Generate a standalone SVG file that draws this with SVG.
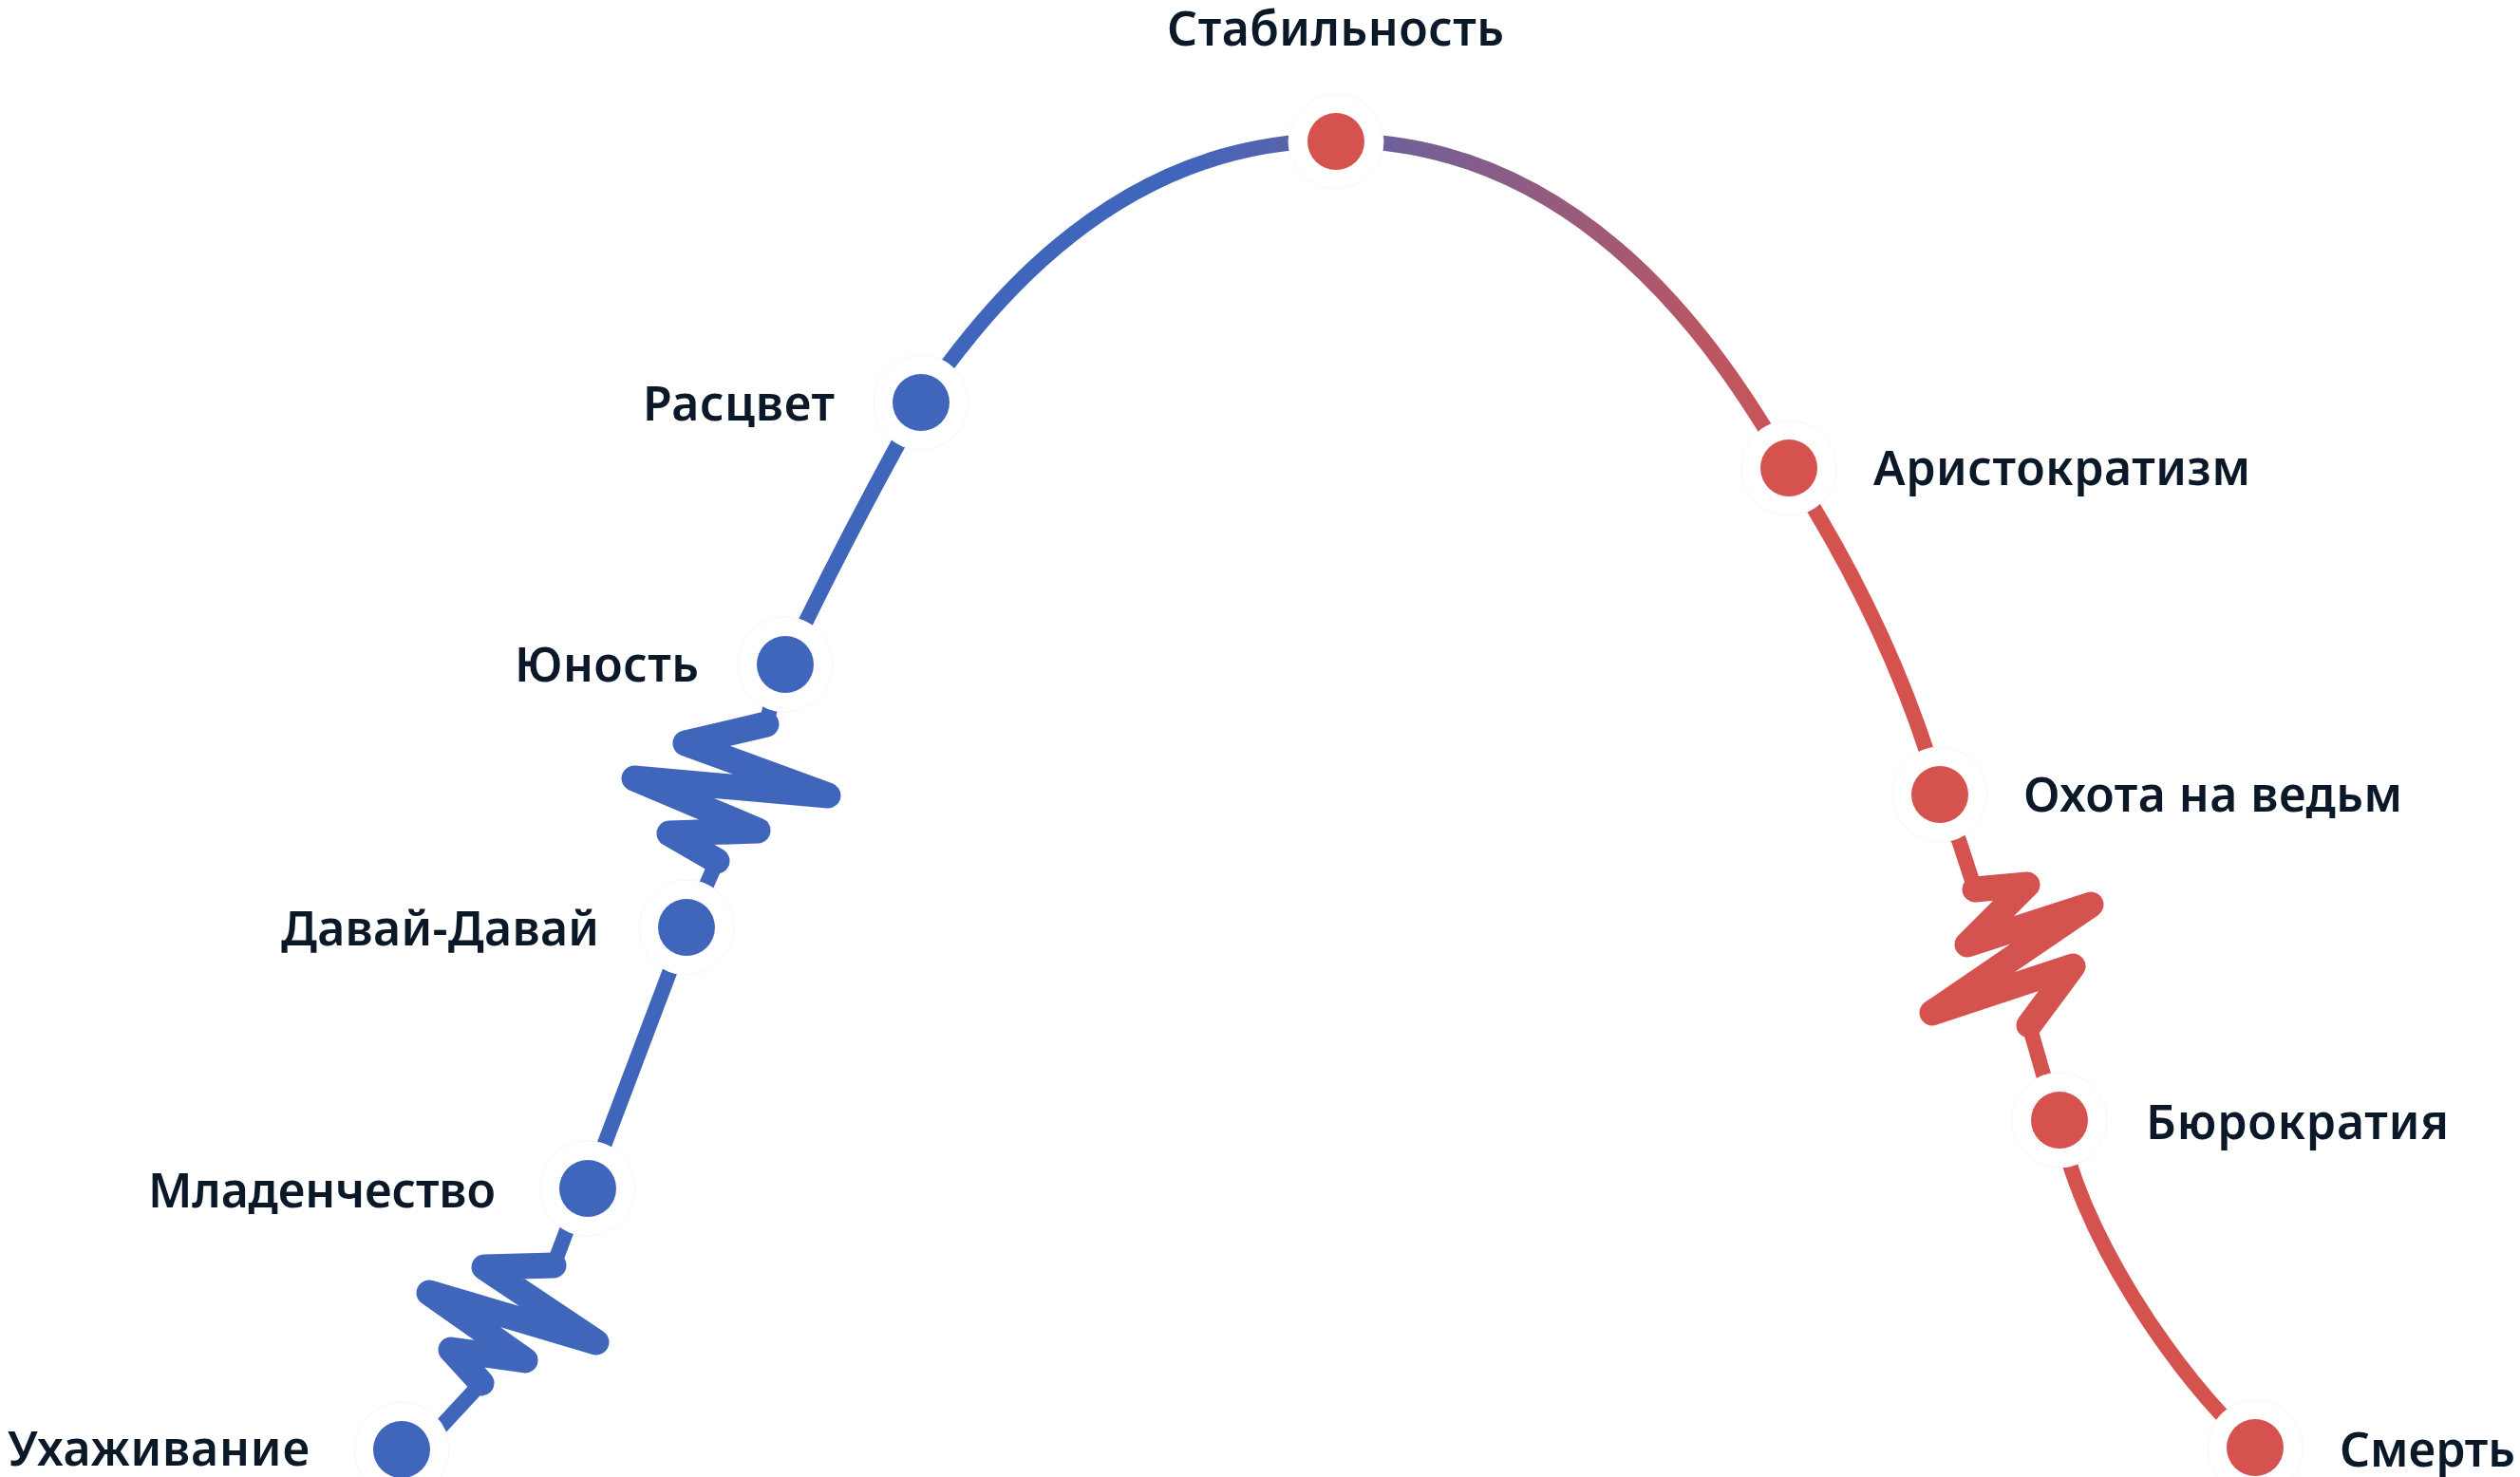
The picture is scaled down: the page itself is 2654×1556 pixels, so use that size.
<svg xmlns="http://www.w3.org/2000/svg" width="2654" height="1556" viewBox="0 0 2654 1556">
  <defs>
    <linearGradient id="arc" gradientUnits="userSpaceOnUse" x1="1250" y1="0" x2="1920" y2="0">
      <stop offset="0" stop-color="#4066BC"/>
      <stop offset="1" stop-color="#D4534F"/>
    </linearGradient>
    <style>
      .curve { fill: none; stroke: url(#arc); stroke-width: 16; stroke-linecap: butt; stroke-linejoin: round; }
      .zig { fill: none; stroke: url(#arc); stroke-width: 27; stroke-linecap: round; stroke-linejoin: round; }
      .halo { fill: #ffffff; stroke: #f7f7f9; stroke-width: 1; }
      .blue { fill: #4066BC; }
      .red { fill: #D6524E; }
      .lbl { font-family: "Noto Sans", "Liberation Sans", sans-serif; font-size: 50px; font-weight: 600; fill: #0A1828; }
    </style>
  </defs>
  <rect width="2654" height="1556" fill="#ffffff"/>

  <g id="connectors">
    <path class="curve" d="M 455,1513 L 507,1457"/>
    <polyline class="zig" points="507,1457 475,1422 553,1433 452,1362 628,1414 510,1335 583,1333"/>
    <path class="curve" d="M 583,1333 L 603,1280"/>
    <path class="curve" d="M 619,1252 L 723,977"/>
    <path class="curve" d="M 735,955 L 745,930 L 755,907"/>
    <polyline class="zig" points="755,907 705,878 798,875 668,820 872,838 722,783 807,763"/>
    <path class="curve" d="M 807,763 L 815,730"/>
    <path class="curve" d="M 827,700 Q 887.5,572 970,424"/>
    <path class="curve" d="M 970,424 C 1084,254 1227,148 1407,148"/>
    <path class="curve" d="M 1407,148 C 1667,148 1811,367 1884,493"/>
    <path class="curve" d="M 1884,493 Q 1994.5,665 2043,837"/>
    <path class="curve" d="M 2050,860 L 2063,885 L 2080,937"/>
    <polyline class="zig" points="2080,937 2135,932 2072,995 2202,953 2035,1067 2183,1018 2137,1080"/>
    <path class="curve" d="M 2137,1080 L 2152,1132 L 2160,1155"/>
    <path class="curve" d="M 2169,1180 C 2185,1290 2290,1450 2375,1525"/>
  </g>

  <g id="node-uhazhivanie">
    <circle class="halo" cx="423" cy="1527" r="50"/>
    <circle class="blue" cx="423" cy="1527" r="30"/>
    <text class="lbl" x="8" y="1544" textLength="318">Ухаживание</text>
  </g>
  <g id="node-mladenchestvo">
    <circle class="halo" cx="619" cy="1252" r="50"/>
    <circle class="blue" cx="619" cy="1252" r="30"/>
    <text class="lbl" x="156" y="1272" textLength="366">Младенчество</text>
  </g>
  <g id="node-davai">
    <circle class="halo" cx="723" cy="977" r="50"/>
    <circle class="blue" cx="723" cy="977" r="30"/>
    <text class="lbl" x="296" y="996" textLength="335">Давай-Давай</text>
  </g>
  <g id="node-yunost">
    <circle class="halo" cx="827" cy="700" r="50"/>
    <circle class="blue" cx="827" cy="700" r="30"/>
    <text class="lbl" x="542" y="718" textLength="194">Юность</text>
  </g>
  <g id="node-rastsvet">
    <circle class="halo" cx="970" cy="424" r="50"/>
    <circle class="blue" cx="970" cy="424" r="30"/>
    <text class="lbl" x="677" y="443" textLength="202">Расцвет</text>
  </g>
  <g id="node-stabilnost">
    <circle class="halo" cx="1407" cy="149" r="50"/>
    <circle class="red" cx="1407" cy="149" r="30"/>
    <text class="lbl" x="1229" y="48" textLength="355">Стабильность</text>
  </g>
  <g id="node-aristokratizm">
    <circle class="halo" cx="1884" cy="493" r="50"/>
    <circle class="red" cx="1884" cy="493" r="30"/>
    <text class="lbl" x="1973" y="511" textLength="397">Аристократизм</text>
  </g>
  <g id="node-ohota">
    <circle class="halo" cx="2043" cy="837" r="50"/>
    <circle class="red" cx="2043" cy="837" r="30"/>
    <text class="lbl" x="2131" y="855" textLength="399">Охота на ведьм</text>
  </g>
  <g id="node-byurokratiya">
    <circle class="halo" cx="2169" cy="1180" r="50"/>
    <circle class="red" cx="2169" cy="1180" r="30"/>
    <text class="lbl" x="2260" y="1200" textLength="319">Бюрократия</text>
  </g>
  <g id="node-smert">
    <circle class="halo" cx="2375" cy="1525" r="50"/>
    <circle class="red" cx="2375" cy="1525" r="30"/>
    <text class="lbl" x="2464" y="1545" textLength="185">Смерть</text>
  </g>
</svg>
